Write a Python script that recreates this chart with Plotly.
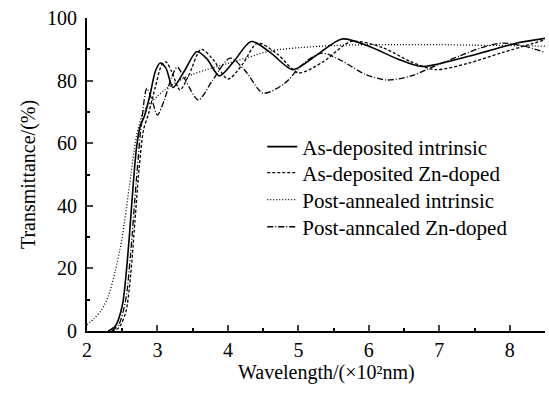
import plotly.graph_objects as go

# As-deposited intrinsic
x_adi = [2.30, 2.40, 2.50, 2.55, 2.60, 2.65, 2.70, 2.75, 2.82, 2.90, 2.97, 3.04, 3.12, 3.22, 3.38, 3.56, 3.70, 3.88, 4.08, 4.33, 4.60, 4.92, 5.25, 5.62, 6.00, 6.40, 6.75, 7.20, 7.70, 8.10, 8.50]
y_adi = [0, 1.5, 8, 17, 30, 45, 58, 65, 69, 76, 83, 85.6, 84, 77.8, 83, 89.3, 87, 81.5, 86, 92.5, 89, 83.5, 88, 93.3, 91, 87, 84.5, 86.5, 89.5, 92, 93.5]

# As-deposited Zn-doped
x_adz = [2.35, 2.45, 2.55, 2.62, 2.68, 2.74, 2.80, 2.88, 2.97, 3.06, 3.12, 3.20, 3.32, 3.45, 3.62, 3.78, 4.00, 4.20, 4.42, 4.70, 5.00, 5.35, 5.75, 6.20, 6.60, 6.95, 7.40, 7.90, 8.50]
y_adz = [0, 1, 6, 18, 35, 52, 64, 70, 78, 85, 86, 83, 77, 82, 90, 87, 80.5, 85, 92, 88.5, 82.5, 86, 92.5, 90.5, 86, 83.5, 85.5, 89, 93]

# Post-annealed intrinsic
x_pai = [2.00, 2.10, 2.20, 2.30, 2.40, 2.50, 2.60, 2.70, 2.80, 2.90, 3.00, 3.10, 3.20, 3.35, 3.50, 3.70, 4.00, 4.30, 4.60, 5.00, 5.50, 6.00, 6.50, 7.00, 7.50, 8.00, 8.50]
y_pai = [2, 4, 6.5, 11, 19, 30, 46, 62, 70, 73, 75, 77, 78.5, 80.5, 82, 83.5, 85.5, 87.5, 89.5, 90.5, 91.2, 91.5, 91.5, 91.5, 91.3, 91.2, 91]

# Post-anncaled Zn-doped
x_paz = [2.35, 2.45, 2.55, 2.62, 2.70, 2.78, 2.85, 2.92, 3.00, 3.10, 3.20, 3.28, 3.40, 3.58, 3.78, 4.03, 4.25, 4.50, 4.80, 5.05, 5.33, 5.60, 5.95, 6.26, 6.60, 6.90, 7.30, 7.60, 7.90, 8.20, 8.50]
y_paz = [0, 2, 10, 25, 48, 68, 77.5, 74, 69, 74, 81, 84.3, 80, 73.8, 80, 87.2, 83, 76, 79, 85, 88.8, 86.5, 82, 80.2, 81.5, 84.3, 88, 90.5, 92, 91, 89]

names = ["As-deposited intrinsic", "As-deposited Zn-doped", "Post-annealed intrinsic", "Post-anncaled Zn-doped"]
dashes = ["solid", "3px,2px", "1px,2px", "6px,2px,1px,2px"]
widths = [1.6, 1.3, 1.3, 1.3]
series = [(x_adi, y_adi), (x_adz, y_adz), (x_pai, y_pai), (x_paz, y_paz)]
legend_ids = ["legend", "legend2", "legend3", "legend4"]
legend_rows = [0.588, 0.505, 0.4185, 0.332]

FONT = "Liberation Serif, Times New Roman, serif"

fig = go.Figure()
for (xs, ys), n, d, w, lg in zip(series, names, dashes, widths, legend_ids):
    fig.add_trace(go.Scatter(x=xs, y=ys, name=n, mode="lines", legend=lg,
                             line=dict(color="black", dash=d, width=w, shape="spline", smoothing=0.8)))

legend_layout = {}
for lg, ly in zip(legend_ids, legend_rows):
    legend_layout[lg] = dict(x=0.3826, y=ly, xanchor="left", yanchor="middle",
                             bgcolor="rgba(0,0,0,0)", font=dict(family=FONT, size=21),
                             itemwidth=30, borderwidth=0)

fig.update_layout(
    width=549, height=394,
    margin=dict(l=87, r=4, t=18, b=63),
    paper_bgcolor="white", plot_bgcolor="white",
    font=dict(family=FONT, size=20, color="black"),
    showlegend=True,
    **legend_layout,
)
fig.add_annotation(text="Wavelength/(×10²nm)", xref="paper", yref="paper", x=0.522, y=-0.134,
                   xanchor="center", yanchor="middle", showarrow=False,
                   font=dict(family=FONT, size=20, color="black"))
fig.update_xaxes(range=[2, 8.5], tickvals=[2, 3, 4, 5, 6, 7, 8], ticks="inside", ticklen=6, tickwidth=2,
                 showline=True, linewidth=2, linecolor="black", showgrid=False, zeroline=False,
                 minor=dict(ticks="inside", dtick=0.5, ticklen=3, tickwidth=2, tickcolor="black"),
                 tickfont=dict(family=FONT, size=20))
fig.update_yaxes(range=[0, 100], tickvals=[0, 20, 40, 60, 80, 100], ticks="inside", ticklen=6, tickwidth=2,
                 showline=True, linewidth=2, linecolor="black", showgrid=False, zeroline=False,
                 minor=dict(ticks="inside", dtick=10, ticklen=3, tickwidth=2, tickcolor="black"),
                 tickfont=dict(family=FONT, size=20), ticklabelstandoff=4,
                 title=dict(text="Transmittance/(%)", font=dict(family=FONT, size=20), standoff=6))

fig.write_html("out.html")
